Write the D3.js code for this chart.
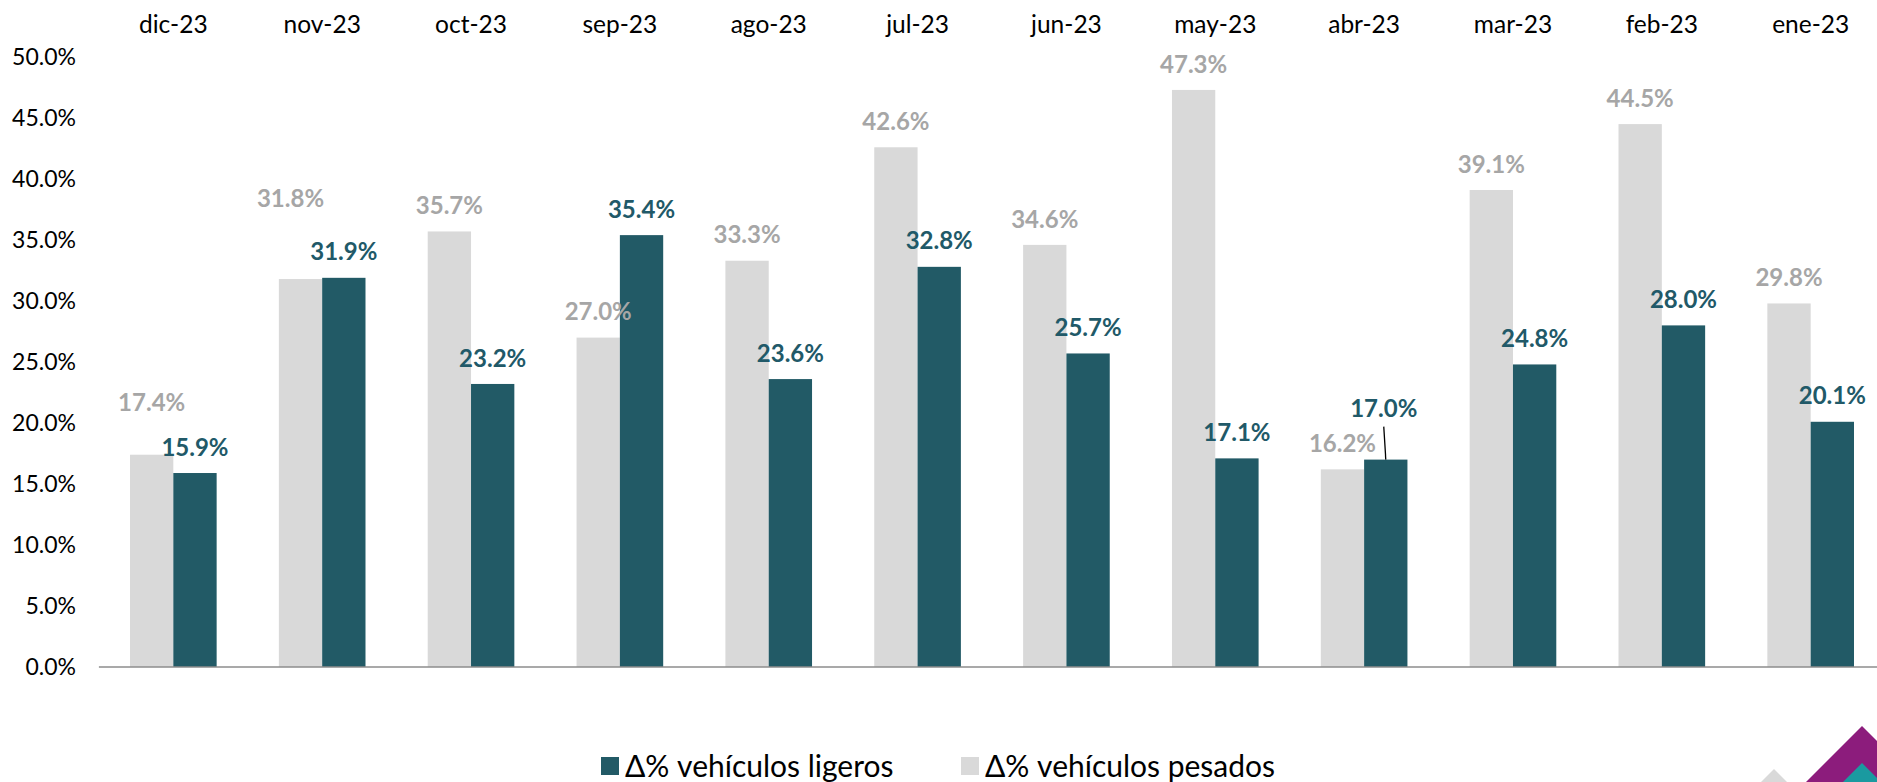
<!DOCTYPE html>
<html>
<head>
<meta charset="utf-8">
<script src="https://cdn.jsdelivr.net/npm/d3@7"></script>
<style>
  html, body { margin: 0; padding: 0; background: #ffffff; }
  svg { display: block; }
  text { font-family: "Century Gothic", "Lato", sans-serif; }
</style>
</head>
<body>
<svg id="chart" width="1877" height="782"></svg>
<script>
// ---- data ----
const categories = ["dic-23","nov-23","oct-23","sep-23","ago-23","jul-23","jun-23","may-23","abr-23","mar-23","feb-23","ene-23"];
const pesados = [17.4, 31.8, 35.7, 27.0, 33.3, 42.6, 34.6, 47.3, 16.2, 39.1, 44.5, 29.8];
const ligeros = [15.9, 31.9, 23.2, 35.4, 23.6, 32.8, 25.7, 17.1, 17.0, 24.8, 28.0, 20.1];
const yTicks = [0, 5, 10, 15, 20, 25, 30, 35, 40, 45, 50];
const seriesKeys = ["pesados", "ligeros"];
const legendLabels = ["Δ% vehículos ligeros", "Δ% vehículos pesados"];

// manual label nudges (as placed in the original chart)
const labelNudge = {
  pesados: { "dic-23": [0, -26], "nov-23": [-10, -55] },
  ligeros: { "abr-23": [-2, -25] }
};
const leaderLines = { ligeros: ["abr-23"] };

// ---- styles ----
const colors = { pesados: "#D9D9D9", ligeros: "#225A66" };
const labelColors = { pesados: "#A6A6A6", ligeros: "#215968" };

const svg = d3.select("#chart");
const left = 98.9, step = 148.85;
const x0 = d3.scaleBand()
  .domain(categories)
  .range([left, left + step * categories.length])
  .paddingInner(0.418)
  .paddingOuter(0.209);
const x1 = d3.scaleBand().domain(seriesKeys).range([0, x0.bandwidth()]).padding(0);
const y = d3.scaleLinear().domain([0, 50]).range([667, 57]);

const fmt = v => v.toFixed(1) + "%";
const seriesData = { pesados, ligeros };

// y axis labels
const yAxis = d3.axisLeft(y).tickValues(yTicks).tickFormat(fmt).tickSize(0).tickPadding(0);
const gy = svg.append("g").attr("transform", "translate(76,0)").call(yAxis);
gy.select(".domain").remove();
gy.selectAll("text")
  .attr("fill", "#000")
  .style("font-size", "23px")
  .style("font-family", '"Century Gothic", "Lato", sans-serif');

// top category labels
const xAxis = d3.axisTop(x0).tickSize(0).tickPadding(0);
const gx = svg.append("g").attr("transform", "translate(0,33)").call(xAxis);
gx.select(".domain").remove();
gx.selectAll("text")
  .attr("fill", "#000")
  .style("font-size", "24.5px")
  .style("font-family", '"Century Gothic", "Lato", sans-serif');

// bars
const groups = svg.append("g").selectAll("g")
  .data(categories)
  .join("g")
  .attr("transform", d => `translate(${x0(d)},0)`);

groups.selectAll("rect")
  .data((d, i) => seriesKeys.map(k => ({ key: k, cat: d, value: seriesData[k][i] })))
  .join("rect")
  .attr("x", d => x1(d.key))
  .attr("width", x1.bandwidth())
  .attr("y", d => y(d.value))
  .attr("height", d => y(0) - y(d.value))
  .attr("fill", d => colors[d.key]);

// axis baseline
svg.append("line")
  .attr("x1", left).attr("x2", 1877)
  .attr("y1", y(0)).attr("y2", y(0))
  .attr("stroke", "#8C8C8C").attr("stroke-width", 1.5);

// data labels
const labelData = [];
categories.forEach((c, i) => {
  seriesKeys.forEach(k => {
    const v = seriesData[k][i];
    const nudge = (labelNudge[k] && labelNudge[k][c]) || [0, 0];
    const bx = x0(c) + x1(k) + x1.bandwidth() / 2;
    labelData.push({ key: k, cat: c, value: v, bx, by: y(v),
      lx: bx + nudge[0], ly: y(v) - 26 + nudge[1] });
  });
});

svg.append("g").selectAll("line")
  .data(labelData.filter(d => leaderLines[d.key] && leaderLines[d.key].includes(d.cat)))
  .join("line")
  .attr("x1", d => d.lx).attr("y1", d => d.ly + 18)
  .attr("x2", d => d.bx).attr("y2", d => d.by)
  .attr("stroke", "#000").attr("stroke-width", 1.3);

svg.append("g").selectAll("text")
  .data(labelData)
  .join("text")
  .attr("x", d => d.lx)
  .attr("y", d => d.ly)
  .attr("dy", "0.36em")
  .attr("text-anchor", "middle")
  .attr("fill", d => labelColors[d.key])
  .style("font-size", "24px")
  .style("font-weight", "bold")
  .text(d => fmt(d.value));

// legend
const legendItems = [
  { key: "ligeros", label: legendLabels[0], x: 601 },
  { key: "pesados", label: legendLabels[1], x: 961 }
];
const lg = svg.append("g").selectAll("g").data(legendItems).join("g")
  .attr("transform", d => `translate(${d.x},757)`);
lg.append("rect").attr("width", 18).attr("height", 18).attr("fill", d => colors[d.key]);
lg.append("text")
  .attr("x", 24).attr("y", 9).attr("dy", "0.36em")
  .attr("fill", "#000")
  .style("font-size", "30px")
  .text(d => d.label);

// decorative logo (bottom-right corner)
const logo = svg.append("g");
logo.append("polygon").attr("points", "1774,769 1787,782 1761,782").attr("fill", "#D9D9D9");
logo.append("polygon").attr("points", "1862,726 1918,782 1806,782").attr("fill", "#8C1C7C");
logo.append("polygon").attr("points", "1862,763 1881,782 1843,782").attr("fill", "#1A9AA0");
</script>
</body>
</html>
